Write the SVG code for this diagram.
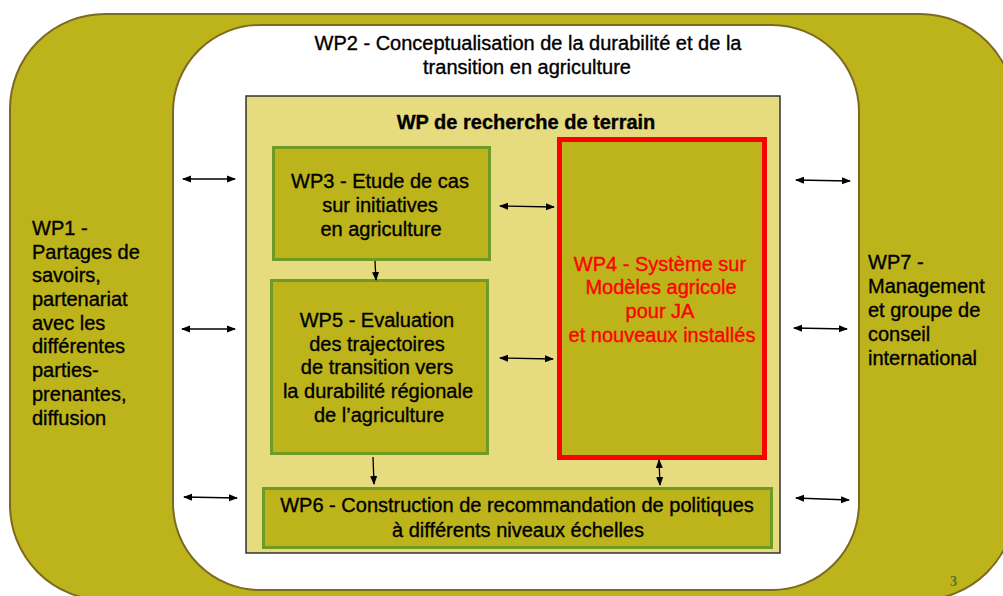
<svg xmlns="http://www.w3.org/2000/svg" width="1003" height="596" viewBox="0 0 1003 596">
<style>
text{font-family:"Liberation Sans",Arial,sans-serif;font-size:20px;fill:#000;stroke:#000;stroke-width:0.35}
.c{text-anchor:middle}
.b{font-weight:bold}
.red{fill:#FF0000;stroke:#FF0000}
.box{fill:#BDB31A;stroke:#6F9A24;stroke-width:3}
.ln{stroke:#000;stroke-width:1.3;fill:none}
</style>
<defs>
<marker id="ah" markerWidth="9" markerHeight="8" refX="8" refY="4" orient="auto-start-reverse" markerUnits="userSpaceOnUse">
<path d="M0,0.5 L9,4 L0,7.5 Z" fill="#000"/>
</marker>
</defs>
<rect width="1003" height="596" fill="#fff"/>
<g id="wp1-wp7-frame">
<rect x="10" y="14" width="1005" height="586" rx="95" fill="#BDB31A" stroke="#7D6A22" stroke-width="2"/>
</g>
<g id="wp2">
<rect x="173" y="25" width="686" height="565" rx="87" fill="#fff" stroke="#7D6A22" stroke-width="2"/>
<text class="c" x="528" y="50">WP2 - Conceptualisation de la durabilité et de la</text>
<text class="c" x="527" y="74">transition en agriculture</text>
</g>
<g id="terrain">
<rect x="246" y="96" width="534" height="457" fill="#E6DB7E" stroke="#333" stroke-width="1.5"/>
<text class="c b" x="526" y="129">WP de recherche de terrain</text>
</g>
<g id="wp3">
<rect class="box" x="273.5" y="147.5" width="216" height="112"/>
<text class="c" x="380" y="188">WP3 - Etude de cas</text>
<text class="c" x="380" y="212">sur initiatives</text>
<text class="c" x="381" y="236">en agriculture</text>
</g>
<g id="wp5">
<rect class="box" x="271.5" y="280.5" width="216" height="173"/>
<text class="c" x="377" y="327">WP5 - Evaluation</text>
<text class="c" x="377" y="351">des trajectoires</text>
<text class="c" x="377" y="374">de transition vers</text>
<text class="c" x="378" y="398">la durabilité régionale</text>
<text class="c" x="379" y="422">de l’agriculture</text>
</g>
<g id="wp4">
<rect x="559.5" y="139.5" width="205" height="318" fill="#BDB31A" stroke="#FF0000" stroke-width="5"/>
<text class="c red" x="660" y="271">WP4 - Système sur</text>
<text class="c red" x="661" y="294">Modèles agricole</text>
<text class="c red" x="660" y="318">pour JA</text>
<text class="c red" x="662" y="342">et nouveaux installés</text>
</g>
<g id="wp6">
<rect class="box" x="263.5" y="488.5" width="508" height="59"/>
<text class="c" x="517" y="512">WP6 - Construction de recommandation de politiques</text>
<text class="c" x="518" y="537">à différents niveaux échelles</text>
</g>
<g id="wp1">
<text x="32" y="235">WP1 -</text>
<text x="32" y="259">Partages de</text>
<text x="32" y="282">savoirs,</text>
<text x="32" y="306">partenariat</text>
<text x="32" y="330">avec les</text>
<text x="32" y="353">différentes</text>
<text x="32" y="377">parties-</text>
<text x="32" y="401">prenantes,</text>
<text x="32" y="425">diffusion</text>
</g>
<g id="wp7">
<text x="868" y="269">WP7 -</text>
<text x="868" y="293">Management</text>
<text x="868" y="317">et groupe de</text>
<text x="868" y="341">conseil</text>
<text x="868" y="365">international</text>
</g>
<g id="connectors">
<line class="ln" x1="183" y1="179" x2="235" y2="179" marker-start="url(#ah)" marker-end="url(#ah)"/>
<line class="ln" x1="182" y1="329" x2="235" y2="329" marker-start="url(#ah)" marker-end="url(#ah)"/>
<line class="ln" x1="184" y1="497" x2="237" y2="498" marker-start="url(#ah)" marker-end="url(#ah)"/>
<line class="ln" x1="796" y1="180" x2="850" y2="181" marker-start="url(#ah)" marker-end="url(#ah)"/>
<line class="ln" x1="794" y1="328" x2="847" y2="329" marker-start="url(#ah)" marker-end="url(#ah)"/>
<line class="ln" x1="796" y1="498" x2="849" y2="500" marker-start="url(#ah)" marker-end="url(#ah)"/>
<line class="ln" x1="500" y1="206" x2="554" y2="207" marker-start="url(#ah)" marker-end="url(#ah)"/>
<line class="ln" x1="500" y1="358" x2="553" y2="359" marker-start="url(#ah)" marker-end="url(#ah)"/>
<line class="ln" x1="375" y1="261" x2="376" y2="280" marker-end="url(#ah)"/>
<line class="ln" x1="373" y1="457" x2="374" y2="484" marker-end="url(#ah)"/>
<line class="ln" x1="659" y1="460" x2="660" y2="485" marker-start="url(#ah)" marker-end="url(#ah)"/>
</g>
<g id="page-number">
<text x="950" y="586" style="font-family:'Liberation Serif',serif;font-size:14px;font-weight:bold;fill:#4E7A1E;stroke:none">3</text>
</g>
</svg>
